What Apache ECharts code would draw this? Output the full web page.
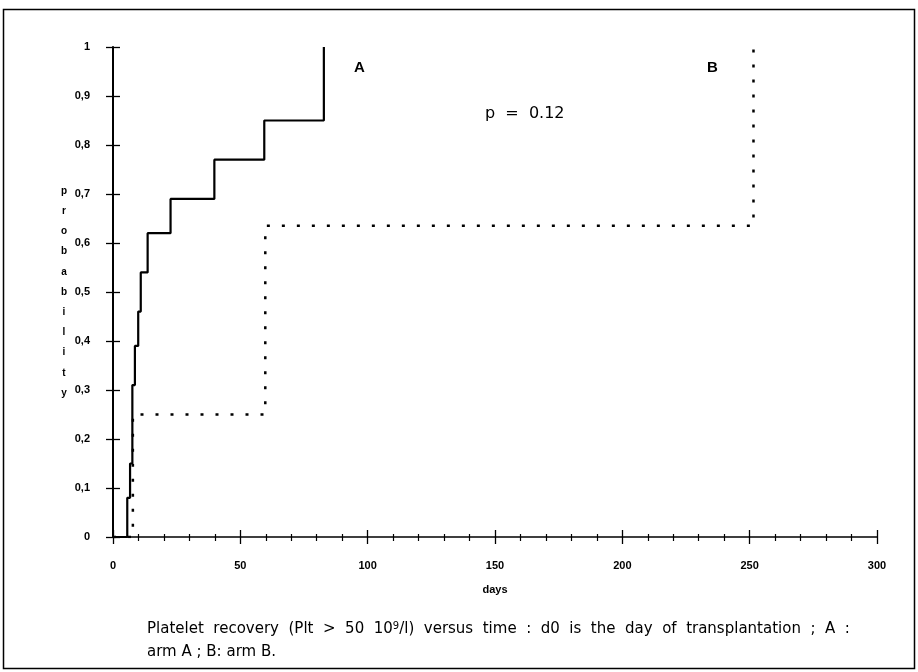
<!DOCTYPE html>
<html>
<head>
<meta charset="utf-8">
<script src="https://cdn.jsdelivr.net/npm/echarts@6/dist/echarts.min.js"></script>
<style>
  html, body { margin: 0; padding: 0; background: #fff; }
  #chart { width: 918px; height: 672px; }
</style>
</head>
<body>
<div id="chart"></div>
<script>
// Arm A (solid): event days and cumulative probability after each step
const armADays = [0, 5.6, 6.7, 7.6, 8.6, 9.9, 10.9, 13.6, 22.6, 39.8, 59.4, 82.8];
const armAProb = [0, 0.08, 0.15, 0.31, 0.39, 0.46, 0.54, 0.62, 0.69, 0.77, 0.85, 1.0];
// Arm B (dotted)
const armBDays = [0, 7.8, 59.8, 251.5];
const armBProb = [0, 0.25, 0.635, 1.0];

const xTicks = [0, 50, 100, 150, 200, 250, 300];
const yTickLabels = ['0', '0,1', '0,2', '0,3', '0,4', '0,5', '0,6', '0,7', '0,8', '0,9', '1'];
const yAxisName = 'probability';
const xAxisName = 'days';
const seriesLabels = ['A', 'B'];
const pValueText = 'p  =  0.12';
// caption line 1 is justified in the original, so its words are spread wider
const captionLine1Words = ['Platelet', 'recovery', '(Plt', '>', '50', '10{sup|9}/l)', 'versus', 'time', ':', 'd0', 'is', 'the', 'day', 'of', 'transplantation', ';', 'A', ':'];
const captionLine2 = 'arm A ; B: arm B.';

const chart = echarts.init(document.getElementById('chart'), null, { renderer: 'canvas' });

const gridLeft = 113, gridTop = 47, gridRight = 41, gridBottom = 135;
const labelFont = { fontFamily: 'Liberation Sans', fontWeight: 'bold', fontSize: 11, color: '#000' };

function zip(xs, ys) { return xs.map((x, i) => [x, ys[i]]); }

const letters = yAxisName.split('');

const option = {
  backgroundColor: '#fff',
  animation: false,
  grid: { left: gridLeft, right: gridRight, top: gridTop, bottom: gridBottom, containLabel: false },
  xAxis: [
    {
      type: 'value', min: 0, max: 300, interval: 50,
      axisLine: { show: true, lineStyle: { color: '#000', width: 1.5 } },
      axisTick: { show: true, length: 7, lineStyle: { color: '#000', width: 1.3 } },
      minorTick: { show: true, splitNumber: 5, length: 4, lineStyle: { color: '#000', width: 1.2 } },
      axisLabel: {
        show: true, margin: 23, ...labelFont,
        formatter: v => (xTicks.indexOf(v) >= 0 ? String(v) : '')
      },
      splitLine: { show: false },
      name: xAxisName, nameLocation: 'middle', nameGap: 47,
      nameTextStyle: { ...labelFont }
    },
    {
      type: 'value', min: 0, max: 300, interval: 50, position: 'bottom', offset: 0,
      axisLine: { show: false },
      axisTick: { show: true, inside: true, length: 7, lineStyle: { color: '#000', width: 1.3 } },
      minorTick: { show: true, splitNumber: 5, length: 3, lineStyle: { color: '#000', width: 1.2 } },
      axisLabel: { show: false },
      splitLine: { show: false }
    }
  ],
  yAxis: [
    {
      type: 'value', min: 0, max: 1, interval: 0.1,
      axisLine: { show: true, lineStyle: { color: '#000', width: 2 } },
      axisTick: { show: true, length: 7, lineStyle: { color: '#000', width: 1.3 } },
      axisLabel: {
        show: true, margin: 23, ...labelFont,
        formatter: v => yTickLabels[Math.round(v * 10)]
      },
      splitLine: { show: false }
    },
    {
      type: 'value', min: 0, max: 1, interval: 0.1, position: 'left', offset: 0,
      axisLine: { show: false },
      axisTick: { show: true, inside: true, length: 7, lineStyle: { color: '#000', width: 1.3 } },
      axisLabel: { show: false },
      splitLine: { show: false }
    }
  ],
  series: [
    {
      name: seriesLabels[0], type: 'line', step: 'end', xAxisIndex: 0, yAxisIndex: 0,
      data: zip(armADays, armAProb), showSymbol: false, symbol: 'none',
      lineStyle: { color: '#000', width: 2.2 }, z: 5
    },
    {
      name: seriesLabels[1], type: 'line', step: 'end', xAxisIndex: 0, yAxisIndex: 0,
      data: zip(armBDays, armBProb), showSymbol: false, symbol: 'none',
      lineStyle: { color: '#000', width: 2.5, type: [3, 12] }, z: 4
    }
  ],
  graphic: [
    {
      type: 'rect', shape: { x: 3.5, y: 9.5, width: 911, height: 659 },
      style: { fill: 'none', stroke: '#000', lineWidth: 1.5 }, silent: true, z: -1
    },
    {
      type: 'text', x: 64, y: 181,
      style: {
        text: letters.join('\n'), fontFamily: 'Liberation Sans', fontWeight: 'bold',
        fontSize: 10, lineHeight: 20.2, align: 'center', fill: '#000'
      }
    },
    {
      type: 'text', left: 354, top: 60,
      style: { text: seriesLabels[0], fontFamily: 'Liberation Sans', fontWeight: 'bold', fontSize: 15, fill: '#000' }
    },
    {
      type: 'text', left: 707, top: 60,
      style: { text: seriesLabels[1], fontFamily: 'Liberation Sans', fontWeight: 'bold', fontSize: 15, fill: '#000' }
    },
    {
      type: 'text', left: 485, top: 106,
      style: { text: pValueText, fontFamily: 'DejaVu Sans', fontSize: 16, fill: '#000' }
    },
    {
      type: 'text', x: 147, y: 621,
      style: {
        text: captionLine1Words.join('  '), fontFamily: 'DejaVu Sans', fontSize: 15, fill: '#000',
        rich: { sup: { fontFamily: 'DejaVu Sans', fontSize: 10, verticalAlign: 'top', padding: [0, 0, 6, 0] } }
      }
    },
    {
      type: 'text', x: 147, y: 645,
      style: { text: captionLine2, fontFamily: 'DejaVu Sans', fontSize: 15, fill: '#000' }
    }
  ]
};

chart.setOption(option);
</script>
</body>
</html>
